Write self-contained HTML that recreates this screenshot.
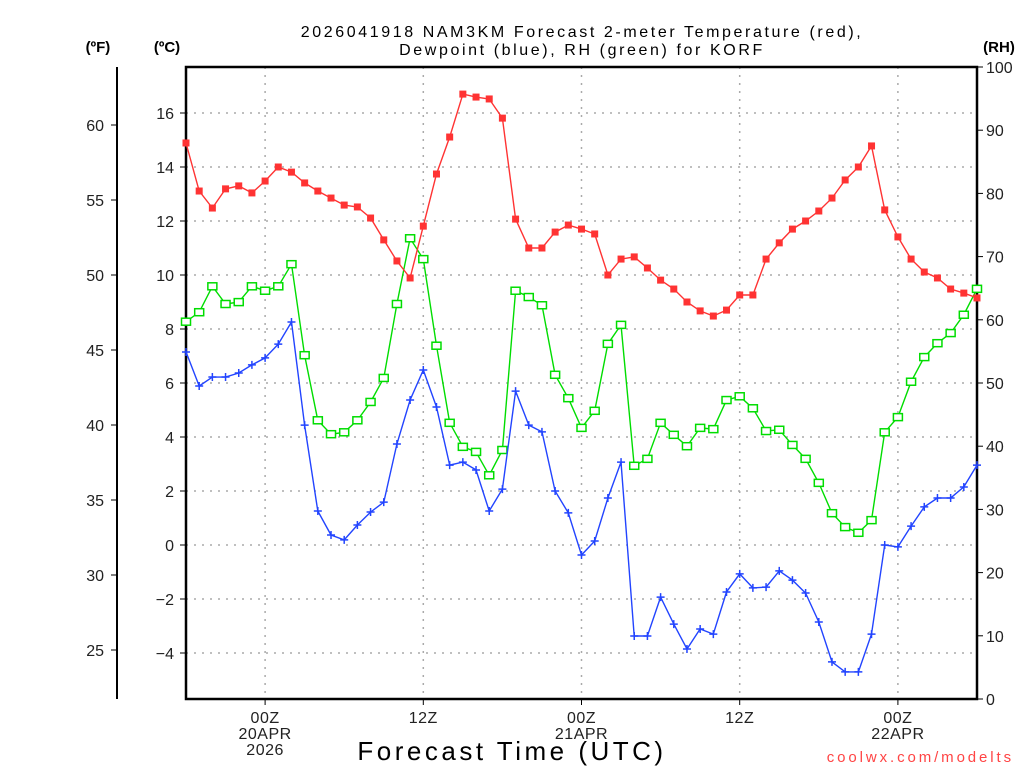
<!DOCTYPE html>
<html><head><meta charset="utf-8"><style>
body{margin:0;background:#fff;}
svg text{font-family:"Liberation Sans",sans-serif;}
</style></head><body>
<svg id="chart" width="1024" height="768" xmlns="http://www.w3.org/2000/svg">
<g id="grid"></g>
<g id="axes"></g>
<g id="series"></g>
<text x="582" y="37" font-size="16" text-anchor="middle" letter-spacing="2.6">2026041918 NAM3KM Forecast 2-meter Temperature (red),</text>
<text x="582" y="55" font-size="16" text-anchor="middle" letter-spacing="2.6">Dewpoint (blue), RH (green) for KORF</text>
<text x="98" y="52" font-size="15" font-weight="bold" text-anchor="middle">(ºF)</text>
<text x="167" y="52" font-size="15" font-weight="bold" text-anchor="middle">(ºC)</text>
<text x="999" y="52" font-size="15" font-weight="bold" text-anchor="middle">(RH)</text>
<text x="512" y="760" font-size="26" text-anchor="middle" letter-spacing="3.5">Forecast Time (UTC)</text>
<text x="1014" y="762" font-size="15" fill="#ff4444" text-anchor="end" letter-spacing="2.9">coolwx.com/modelts</text>
</svg>
<script>
const tempC=[14.89,13.11,12.48,13.19,13.3,13.04,13.48,14.0,13.81,13.41,13.11,12.85,12.59,12.52,12.11,11.3,10.52,9.89,11.81,13.74,15.11,16.7,16.59,16.52,15.81,12.07,11.0,11.0,11.59,11.85,11.7,11.52,10.0,10.59,10.67,10.26,9.81,9.48,9.0,8.67,8.48,8.7,9.26,9.26,10.59,11.19,11.7,12.0,12.37,12.85,13.52,14.0,14.78,12.41,11.41,10.59,10.11,9.89,9.48,9.33,9.15];
const dewC=[7.15,5.89,6.22,6.22,6.37,6.67,6.93,7.44,8.26,4.44,1.26,0.37,0.19,0.74,1.22,1.59,3.74,5.37,6.48,5.11,2.96,3.07,2.78,1.26,2.07,5.7,4.44,4.19,2.0,1.19,-0.37,0.15,1.74,3.07,-3.37,-3.37,-1.93,-2.93,-3.85,-3.11,-3.3,-1.74,-1.07,-1.59,-1.56,-0.96,-1.3,-1.78,-2.85,-4.33,-4.7,-4.7,-3.3,0.0,-0.07,0.7,1.41,1.74,1.74,2.15,2.96];
const rh=[59.7,61.2,65.3,62.5,62.8,65.3,64.6,65.3,68.8,54.4,44.1,41.9,42.2,44.1,47.0,50.8,62.5,72.9,69.6,55.9,43.7,39.9,39.1,35.4,39.4,64.6,63.6,62.3,51.3,47.6,42.9,45.6,56.2,59.2,36.9,38.0,43.7,41.8,40.0,42.9,42.7,47.3,47.9,46.0,42.4,42.6,40.2,38.0,34.2,29.4,27.2,26.3,28.3,42.2,44.6,50.2,54.1,56.3,57.9,60.8,64.9];
const cTicks=[-4,-2,0,2,4,6,8,10,12,14,16];
const fTicks=[25,30,35,40,45,50,55,60];
const rhTicks=[0,10,20,30,40,50,60,70,80,90,100];
const timeTickHours=[6,18,30,42,54];
const timeTickLabels=[["00Z","20APR","2026"],["12Z"],["00Z","21APR"],["12Z"],["00Z","22APR"]];

const L=186,R=977,T=67,B=699,NH=60;
const xS=h=>L+(R-L)*h/NH;
const yC=c=>545-27*c;
const yF=f=>yC((f-32)*5/9);
const yRH=v=>B-(B-T)*v/100;
const NS="http://www.w3.org/2000/svg";
function mk(tag,attrs,parent){const e=document.createElementNS(NS,tag);for(const k in attrs)e.setAttribute(k,attrs[k]);parent.appendChild(e);return e;}
const grid=document.getElementById('grid'),axes=document.getElementById('axes'),ser=document.getElementById('series');

cTicks.forEach(c=>{
  const y=yC(c);
  const g=mk('line',{x1:L,x2:R,y1:y,y2:y,stroke:'#aaa','stroke-width':1.5,'stroke-dasharray':'2,6'},grid);
  
  
  const t=mk('line',{x1:L-6,x2:L,y1:y,y2:y,stroke:'#000','stroke-width':1},axes);
  
  
  const tx=mk('text',{x:L-12,y:y+6,'font-size':16,'text-anchor':'end',fill:'#222'},axes);
  tx.textContent=(c<0?'\u2212':'')+Math.abs(c);
  
  
});
timeTickHours.forEach((h,i)=>{
  const x=xS(h);
  const g=mk('line',{x1:x,x2:x,y1:T,y2:B,stroke:'#aaa','stroke-width':1.5,'stroke-dasharray':'2,6'},grid);
  
  
  const t=mk('line',{x1:x,x2:x,y1:B,y2:B+6,stroke:'#000','stroke-width':1},axes);
  
  
  timeTickLabels[i].forEach((s,j)=>{
    const tx=mk('text',{x:x,y:B+24+j*16,'font-size':16,'text-anchor':'middle',fill:'#222','letter-spacing':0.5},axes);
    tx.textContent=s;
    
    
  });
});
fTicks.forEach(f=>{
  const y=yF(f);
  const t=mk('line',{x1:111,x2:117,y1:y,y2:y,stroke:'#000','stroke-width':1},axes);
  
  
  const tx=mk('text',{x:104,y:y+6,'font-size':16,'text-anchor':'end',fill:'#222'},axes);
  tx.textContent=f;
  
  
});
rhTicks.forEach(v=>{
  const y=yRH(v);
  const t=mk('line',{x1:R,x2:R+6,y1:y,y2:y,stroke:'#000','stroke-width':1},axes);
  
  
  const tx=mk('text',{x:986,y:y+6,'font-size':16,'text-anchor':'start',fill:'#222'},axes);
  tx.textContent=v;
  
  
});
const fax=mk('line',{x1:117,x2:117,y1:67,y2:699,stroke:'#000','stroke-width':2},axes);


const frame=mk('rect',{x:L,y:T,width:R-L,height:B-T,fill:'none',stroke:'#000','stroke-width':2.5},axes);



function series(vals,yf,color,marker,name){
  const g=mk('g',{},ser);
  
  
  const pts=vals.map((v,i)=>xS(i).toFixed(1)+','+yf(v).toFixed(1)).join(' ');
  const pl=mk('polyline',{points:pts,fill:'none',stroke:color,'stroke-width':1.4},g);
  
  
  vals.forEach((v,i)=>{
    const x=xS(i),y=yf(v);let m;
    if(marker==='fill'){m=mk('rect',{x:x-3.5,y:y-3.5,width:7,height:7,fill:color},g);}
    else if(marker==='open'){m=mk('rect',{x:x-4.5,y:y-3.5,width:9,height:7,fill:'#fff',stroke:color,'stroke-width':1.5},g);}
    else{m=mk('path',{d:`M${x-4},${y}H${x+4}M${x},${y-4}V${y+4}`,stroke:color,'stroke-width':1.5},g);}
    
    
  });
}
series(rh,yRH,'#00dd00','open','rh');
series(dewC,yC,'#2244ff','plus','dewpoint');
series(tempC,yC,'#ff3333','fill','temperature');
</script>
</body></html>
